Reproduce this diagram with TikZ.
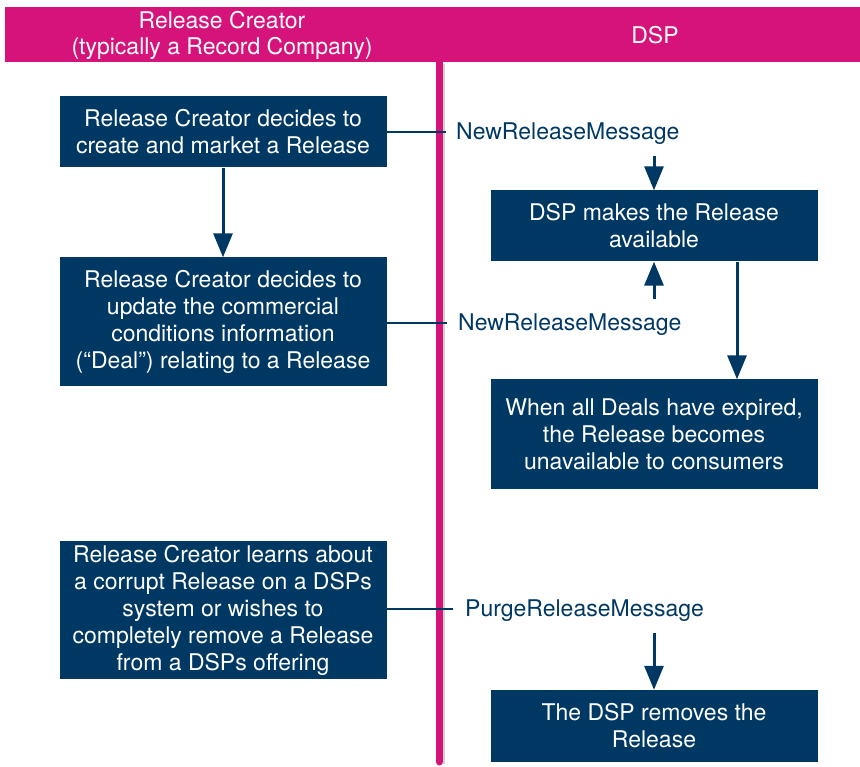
\documentclass[tikz,border=0pt]{standalone}
\usepackage{fontspec}
\setmainfont{TeX Gyre Heros}
\usepackage{tikz}
\usetikzlibrary{arrows.meta}
\definecolor{ddexmag}{RGB}{214,19,123}
\definecolor{ddexnavy}{RGB}{0,56,100}
\tikzstyle{box}=[fill=ddexnavy,text=white,align=center,inner sep=0pt,minimum width=327pt,font=\fontsize{23}{27}\selectfont]
\tikzstyle{msg}=[text=ddexnavy,anchor=west,inner sep=0pt,font=\fontsize{23}{27}\selectfont]
\tikzstyle{flow}=[line width=3pt,draw=ddexnavy,-{Triangle[length=24pt,width=19pt]}]
\tikzstyle{link}=[line width=2.5pt,draw=ddexnavy]

\begin{document}
\begin{tikzpicture}[x=1pt,y=-1pt]
\useasboundingbox (0,0) rectangle (860,767);
%Bandeau
\fill[ddexmag] (5,7) rectangle (860,62);
\node[text=white,align=center,font=\fontsize{23}{26}\selectfont] (hRC) at (222,35) {Release Creator\\(typically a Record Company)};
\node[text=white,font=\fontsize{23}{26}\selectfont] (hDSP) at (655,35) {DSP};
%Ligne de separation
\draw[black!18,line width=2pt] (444,64) -- (444,764);
\draw[ddexmag,line width=7pt,line cap=round] (439,62) -- (439,762);

%colonne de gauche
\node[box,minimum height=71pt] (L1) at (223,132) {Release Creator decides to\\create and market a Release};
\node[box,minimum height=129pt] (L2) at (223,322) {Release Creator decides to\\update the commercial\\conditions information\\(``Deal'') relating to a Release};
\node[box,minimum height=138pt] (L3) at (223,610) {Release Creator learns about\\a corrupt Release on a DSPs\\system or wishes to\\completely remove a Release\\from a DSPs offering};
\draw[flow] (L1) -- (L2);

%colonne de droite
\node[box,minimum height=71pt] (R1) at (654,226) {DSP makes the Release\\available};
\node[box,minimum height=109pt] (R2) at (654,434) {When all Deals have expired,\\the Release becomes\\unavailable to consumers};
\node[box,minimum height=72pt] (R3) at (654,726) {The DSP removes the\\Release};
\draw[flow] ([xshift=83pt]R1.south) -- ([xshift=83pt]R2.north);

%messages
\node[msg] (M1) at (456,134) {NewReleaseMessage};
\node[msg] (M2) at (458,325) {NewReleaseMessage};
\node[msg] (M3) at (465,611) {PurgeReleaseMessage};
\coordinate (E1) at (446,132);
\coordinate (E2) at (447,323);
\coordinate (E3) at (453,609);
\draw[link] (L1.east |- E1) -- (E1);
\draw[link] (L2.east |- E2) -- (E2);
\draw[link] (L3.east |- E3) -- (E3);
\coordinate (S1) at (654,156);
\coordinate (S2) at (654,299);
\coordinate (S3) at (654,633);
\draw[flow] (S1) -- (S1 |- R1.north);
\draw[flow] (S2) -- (S2 |- R1.south);
\draw[flow] (S3) -- (S3 |- R3.north);
\end{tikzpicture}
\end{document}
